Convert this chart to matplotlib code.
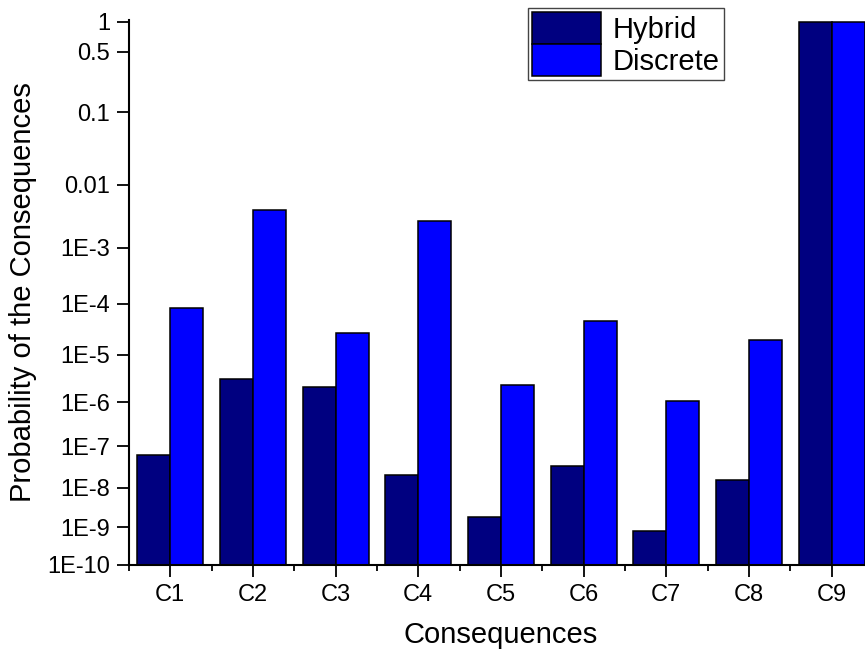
import numpy as np
import matplotlib
matplotlib.use("Agg")
import matplotlib.pyplot as plt
from matplotlib.ticker import FixedLocator, FixedFormatter, NullLocator

plt.rcParams['font.family'] = ['Liberation Sans', 'DejaVu Sans']

# data
categories = ["C1", "C2", "C3", "C4", "C5", "C6", "C7", "C8", "C9"]
hybrid = [6.4e-8, 3.2e-6, 2.1e-6, 2.1e-8, 1.85e-9, 3.5e-8, 7.9e-10, 1.55e-8, 0.995]
discrete = [8.4e-5, 4.1e-3, 2.8e-5, 2.8e-3, 2.4e-6, 4.7e-5, 1.05e-6, 2.0e-5, 0.995]
ytick_vals = [1e-10, 1e-9, 1e-8, 1e-7, 1e-6, 1e-5, 1e-4, 1e-3, 0.01, 0.1, 0.5, 1]
ytick_labels = ["1E-10", "1E-9", "1E-8", "1E-7", "1E-6", "1E-5", "1E-4", "1E-3",
                "0.01", "0.1", "0.5", "1"]

# y axis in the original is a compressed log axis (sqrt of decades)
C = 1.43


def fwd(p):
    with np.errstate(divide='ignore', invalid='ignore'):
        k = -np.log10(p) + C
        return -np.sqrt(np.clip(k, 0, None))


def inv(t):
    return 10 ** (C - np.asarray(t) ** 2)


fig = plt.figure(figsize=(8.65, 6.54), dpi=100)
ax = fig.add_axes([0.1491, 0.1361, 0.8601, 0.8338])
ax.set_yscale('function', functions=(fwd, inv))

x = np.arange(1, len(categories) + 1)
ybot = 1e-10
w = 0.4
ax.bar(x - w / 2, np.array(hybrid) - ybot, bottom=ybot, width=w, color="#000080",
       edgecolor="black", linewidth=1.1, label="Hybrid")
ax.bar(x + w / 2, np.array(discrete) - ybot, bottom=ybot, width=w, color="#0000FF",
       edgecolor="black", linewidth=1.1, label="Discrete")

ax.set_xlim(0.5, 9.5)
ax.set_ylim(1e-10, 1.05)

ax.yaxis.set_major_locator(FixedLocator(ytick_vals))
ax.yaxis.set_major_formatter(FixedFormatter(ytick_labels))
ax.yaxis.set_minor_locator(NullLocator())
ax.set_xticks(x)
ax.set_xticklabels(categories)
ax.set_xticks(np.arange(0.5, 10, 1), minor=True)

for s in ["top", "right"]:
    ax.spines[s].set_visible(False)
for s in ["left", "bottom"]:
    ax.spines[s].set_linewidth(1.5)

ax.tick_params(axis='both', which='major', direction='out', length=8.6, width=1.3,
               labelsize=17, pad=5)
ax.tick_params(axis='x', which='minor', direction='out', length=4.3, width=1.3)

ax.set_xlabel("Consequences", fontsize=21, labelpad=11)
ax.set_ylabel("Probability of the Consequences", fontsize=21, labelpad=7)

leg = ax.legend(loc="upper left", bbox_to_anchor=(0.610, 0.988),
                bbox_transform=fig.transFigure, fontsize=21, fancybox=False,
                framealpha=1, edgecolor="#444444", borderpad=0.15, labelspacing=0.0,
                handlelength=2.35, handleheight=1.3, handletextpad=0.4,
                borderaxespad=0)
leg.get_frame().set_linewidth(1.0)

fig.savefig("out.png", dpi=100)
